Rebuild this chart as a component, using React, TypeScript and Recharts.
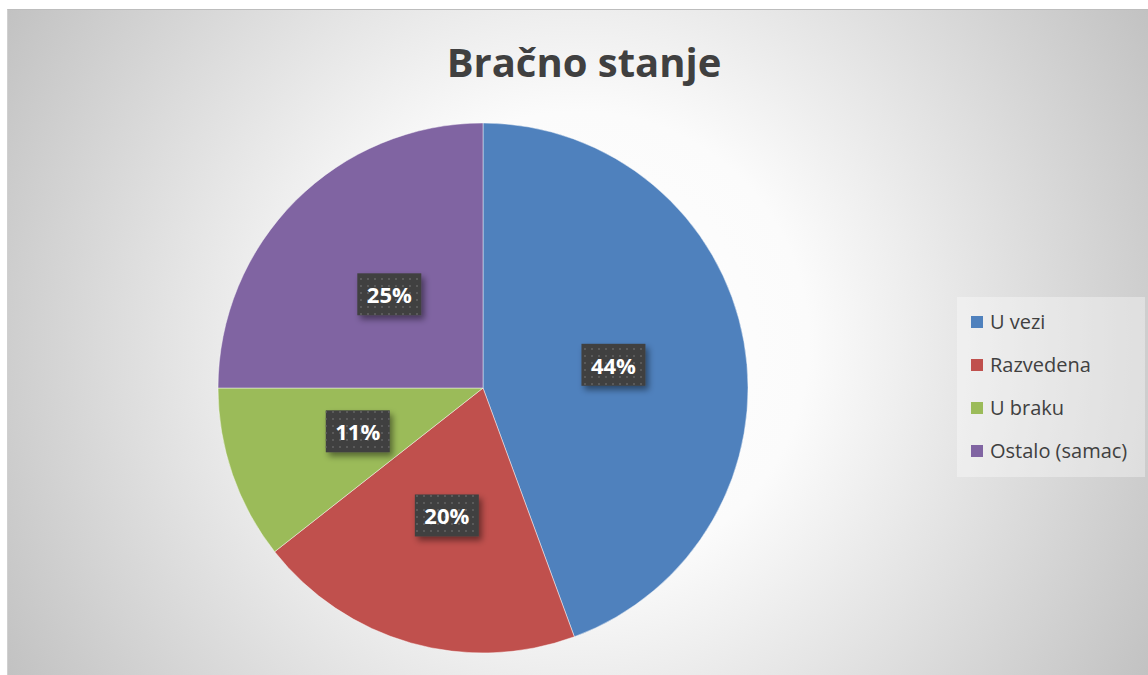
import React from "react";
import { PieChart, Pie, Cell, Legend } from "recharts";

const categories = ["U vezi", "Razvedena", "U braku", "Ostalo (samac)"];
const values = [44.4, 20.0, 10.6, 25.0];
const colors = ["#4F81BD", "#C0504D", "#9BBB59", "#8064A2"];
const title = "Bračno stanje";

const data = categories.map((name, i) => ({ name, value: values[i] }));

const RAD = Math.PI / 180;

const renderLabel = (props: any) => {
  const { cx, cy, midAngle, outerRadius, percent } = props;
  const r = outerRadius * 0.5;
  const x = cx + r * Math.cos(-midAngle * RAD);
  const y = cy + r * Math.sin(-midAngle * RAD);
  const w = 64;
  const h = 42;
  return (
    <g>
      <rect x={x - w / 2} y={y - h / 2} width={w} height={h} fill="#404040" filter="url(#lblShadow)" />
      <rect x={x - w / 2} y={y - h / 2} width={w} height={h} fill="url(#dots)" />
      <text
        x={x}
        y={y}
        textAnchor="middle"
        dominantBaseline="central"
        fill="#ffffff"
        fontFamily="'Open Sans', sans-serif"
        fontWeight={700}
        fontSize={22}
      >
        {Math.round(percent * 100) + "%"}
      </text>
    </g>
  );
};

const renderLegend = () => (
  <div
    style={{
      width: 188,
      height: 180,
      background: "rgba(255,255,255,0.35)",
      boxSizing: "border-box",
      paddingTop: 3,
      paddingLeft: 14,
    }}
  >
    {categories.map((c, i) => (
      <div
        key={c}
        style={{
          display: "flex",
          alignItems: "center",
          height: 43,
          fontFamily: "'Open Sans', sans-serif",
          fontSize: 20,
          color: "#404040",
        }}
      >
        <div style={{ width: 12, height: 12, background: colors[i], marginRight: 7 }} />
        <span>{c}</span>
      </div>
    ))}
  </div>
);

export default function App() {
  return (
    <div
      style={{
        position: "absolute",
        left: 7,
        top: 9,
        width: 1141,
        height: 666,
        borderTop: "1px solid #bdbdbd",
        borderLeft: "1px solid #d0d0d0",
        boxSizing: "border-box",
        background:
          "radial-gradient(circle at 50% 50%, #ffffff 0%, #fbfbfb 35%, #c2c2c2 100%)",
      }}
    >
      <PieChart width={1140} height={665} margin={{ top: 0, right: 0, bottom: 0, left: 0 }}>
        <defs>
          <filter id="lblShadow" x="-30%" y="-30%" width="160%" height="170%">
            <feDropShadow dx={3} dy={4} stdDeviation={3} floodColor="#000" floodOpacity={0.45} />
          </filter>
          <pattern id="dots" width={7} height={7} patternUnits="userSpaceOnUse">
            <rect x={2} y={2} width={2} height={2} fill="#5a5a5a" />
          </pattern>
        </defs>
        <text
          x={576}
          y={67}
          textAnchor="middle"
          fontFamily="'Open Sans', sans-serif"
          fontWeight={700}
          fontSize={40}
          fill="#404040"
        >
          {title}
        </text>
        <Pie
          data={data}
          dataKey="value"
          nameKey="name"
          cx={475}
          cy={378}
          outerRadius={265}
          startAngle={90}
          endAngle={-270}
          stroke="rgba(255,255,255,0.45)"
          strokeWidth={1}
          label={renderLabel}
          labelLine={false}
          isAnimationActive={false}
        >
          {data.map((d, i) => (
            <Cell key={d.name} fill={colors[i]} />
          ))}
        </Pie>
        <Legend
          content={renderLegend}
          wrapperStyle={{ position: "absolute", left: 949, top: 287, width: 188 }}
        />
      </PieChart>
    </div>
  );
}
